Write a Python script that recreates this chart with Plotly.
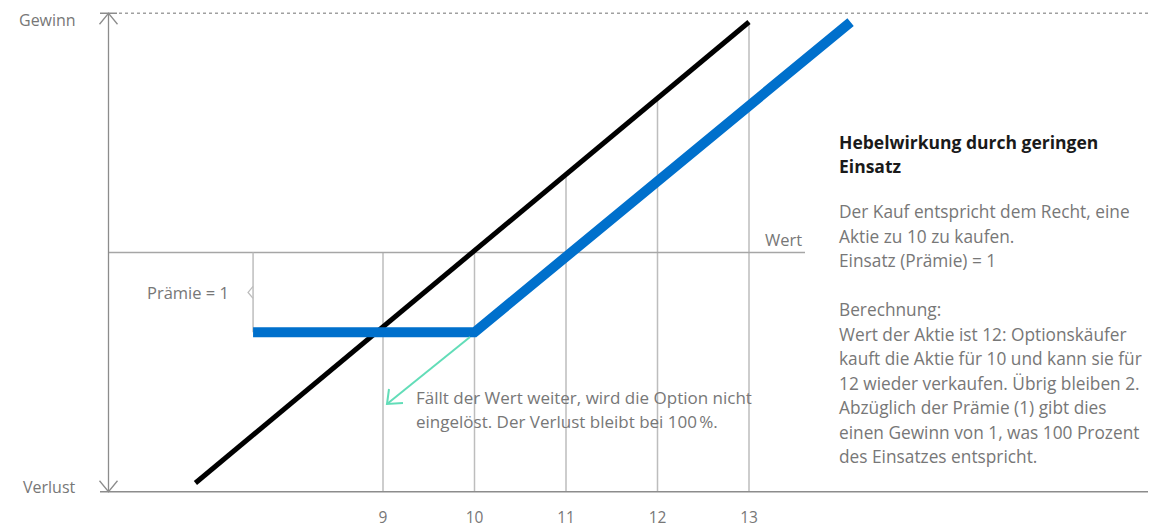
import numpy as np
import plotly.graph_objects as go

# ---- data ----
x_ticks = [9, 10, 11, 12, 13]
x_tick_labels = ["9", "10", "11", "12", "13"]
stock_x = [6.95, 13.0]
stock_y = [-2.89, 2.89]
option_x = [7.58, 10.0, 14.11]
option_y = [-1.0, -1.0, 2.89]
premium = 1
y_top, y_bottom = 3, -3
x_left = 6

# ---- page-pixel helpers (layout only) ----
XU, YU = 91.5, 79.75
def X(p):
    return 9 + (p - 383) / XU
def Y(p):
    return (252.5 - p) / YU

# plot area in page pixels
L, T, R, B = 10, 2, 1152, 506

GREY_AX = "#8c8c8c"
GREY_GRID = "#bdbdbd"
TXT = "#777777"
FONT = "Open Sans"

fig = go.Figure()

def seg(xs, ys, color, width, dash=None):
    fig.add_trace(go.Scatter(x=xs, y=ys, mode="lines",
                             line=dict(color=color, width=width, dash=dash),
                             hoverinfo="skip", showlegend=False))

# vertical guide lines up to the stock line (or zero line)
for xt in x_ticks:
    top = max(0.0, float(np.interp(xt, stock_x, stock_y)))
    seg([xt, xt], [y_bottom, top], GREY_GRID, 1.5)

# zero line (Wert)
seg([x_left, X(805)], [0, 0], "#a6a6a6", 1.5)

# top dotted line + solid start
seg([X(119), X(1148)], [y_top, y_top], "#a0a0a0", 1.5, "dot")
seg([X(100), X(117)], [y_top, y_top], GREY_AX, 1.5)

# left axis + arrows
seg([x_left, x_left], [y_bottom, y_top], GREY_AX, 1.3)
adx, ady = 9 / XU, 11 / YU
seg([x_left - adx, x_left, x_left + adx], [y_top - ady, y_top, y_top - ady], GREY_AX, 1.3)
seg([x_left - adx, x_left, x_left + adx], [y_bottom + ady, y_bottom, y_bottom + ady], GREY_AX, 1.3)

# bottom axis
seg([X(100), X(1148)], [y_bottom, y_bottom], GREY_AX, 1.5)

# premium bracket
bx = option_x[0]
seg([bx, bx], [0, -premium], GREY_GRID, 1.5)
seg([bx, bx - 5 / XU, bx], [-premium / 2 + 6 / YU, -premium / 2, -premium / 2 - 6 / YU], GREY_GRID, 1.3)

# stock line
seg(stock_x, stock_y, "#000000", 5)
# option line
fig.add_trace(go.Scatter(x=option_x, y=option_y, mode="lines",
                         line=dict(color="#0070CC", width=10),
                         hoverinfo="skip", showlegend=False))

# green arrow
GREEN = "#62DDB8"
tipx, tipy = X(387), Y(404)
seg([X(470), tipx], [Y(337), tipy], GREEN, 2)
seg([tipx + 2 / XU, tipx, tipx + 16 / XU], [tipy + 15 / YU, tipy, tipy + 1 / YU], GREEN, 2)

ann = []
def text(t, px, py, size=16, color=TXT, anchor="left", bold=False):
    ann.append(dict(x=X(px), y=Y(py), xref="x", yref="y", text=(f"<b>{t}</b>" if bold else t),
                    showarrow=False, xanchor=anchor, yanchor="middle",
                    font=dict(family=FONT, size=size, color=color)))

text("Gewinn", 78, 20, 16, anchor="right")
text("Verlust", 78, 487, 16, anchor="right")
text("Wert", 804, 239, 16.5, anchor="right")
text("Prämie = 1", 231, 292, 16.5, anchor="right")
text("Fällt der Wert weiter, wird die Option nicht", 414, 397, 17)
text("eingelöst. Der Verlust bleibt bei 100\u202f%.", 414, 421, 17)

text("Hebelwirkung durch geringen", 837, 142, 17.5, color="#1a1a1a", bold=True)
text("Einsatz", 837, 166, 17.5, color="#1a1a1a", bold=True)
body = [
    ("Der Kauf entspricht dem Recht, eine", 211),
    ("Aktie zu 10 zu kaufen.", 236),
    ("Einsatz (Prämie) = 1", 260),
    ("Berechnung:", 309),
    ("Wert der Aktie ist 12: Optionskäufer", 334),
    ("kauft die Aktie für 10 und kann sie für", 358),
    ("12 wieder verkaufen. Übrig bleiben 2.", 383),
    ("Abzüglich der Prämie (1) gibt dies", 407),
    ("einen Gewinn von 1, was 100 Prozent", 432),
    ("des Einsatzes entspricht.", 456),
]
for t, py in body:
    text(t, 837, py, 17.3)

fig.update_layout(
    width=1152, height=527,
    margin=dict(l=L, r=1152 - R, t=T, b=527 - B, pad=0, autoexpand=False),
    paper_bgcolor="white", plot_bgcolor="white",
    annotations=ann,
    xaxis=dict(range=[X(L), X(R)], showgrid=False, zeroline=False, showline=False,
               tickvals=x_ticks, ticktext=x_tick_labels, ticks="", automargin=False,
               tickfont=dict(family=FONT, size=15.5, color=TXT), ticklabelstandoff=0,
               fixedrange=True),
    yaxis=dict(range=[Y(B), Y(T)], showgrid=False, zeroline=False, showline=False,
               showticklabels=False, automargin=False, fixedrange=True),
)

fig.write_html("out.html", config={"displayModeBar": False},
               post_script="document.body.style.margin='0';document.body.style.overflow='hidden';")
